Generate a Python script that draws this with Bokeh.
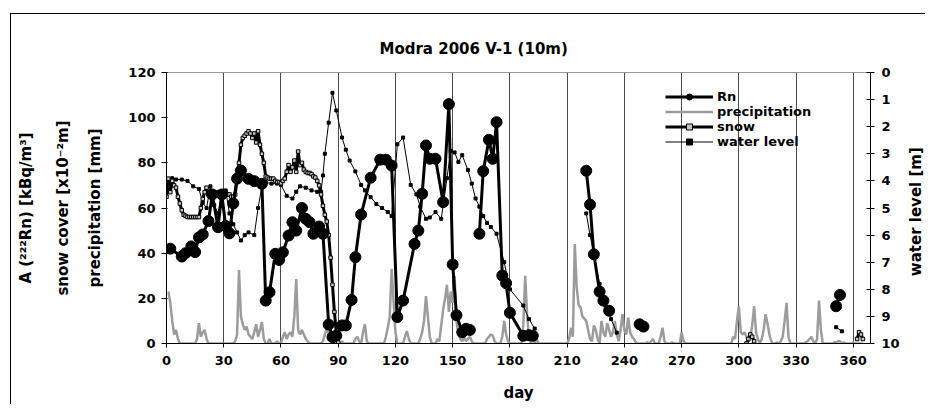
import math
from bokeh.plotting import figure
from bokeh.layouts import row
from bokeh.core.properties import value
from bokeh.models import (Range1d, LinearAxis, FixedTicker, Legend, LegendItem)
from bokeh.embed import file_html
from bokeh.resources import INLINE

nan = float("nan")

# ---------------- data ----------------
x_ticks = [0, 30, 60, 90, 120, 150, 180, 210, 240, 270, 300, 330, 360]
y_ticks = [0, 20, 40, 60, 80, 100, 120]
wl_ticks = [0, 1, 2, 3, 4, 5, 6, 7, 8, 9, 10]

# A(222Rn) [kBq/m3]
rn_day = [2, 8, 10, 13, 15, 17, 19, 22, 24, 27,
          29, 31, 33, 35, 37, 39, 43, 46, 50, 52,
          54, 57, 59, 61, 64, 66, 68, 71, 73, 75,
          77, 80, 82, 85, 87, 89, 92, 94, 97, 99,
          102, 107, 112, 115, 118, 121, 124, 130, 132, 134,
          136, 138, 141, 145, 148, 150, 152, 155, 157, 159,
          nan, 164, 166, 169, 171, 173, 176, 178, 180, 187,
          190, 192, nan, 220, 222, 224, 227, 229, 232, nan,
          248, 250, nan, 351, 353]
rn_val = [42, 38.5, 40, 43, 40.5, 47, 48.3, 54.2, 66, 51.5,
          66, 52, 48.8, 62, 73, 76.6, 72.9, 71.9, 70.7, 19,
          22.7, 39.7, 37, 40.4, 47.8, 53.7, 50, 60, 55.2, 53.7,
          48.6, 51.8, 48.6, 8.4, 2.8, 3.5, 8, 8, 19.3, 38.2,
          57.1, 73.4, 81.4, 81.4, 78.8, 11.7, 19, 44.1, 50, 66.3,
          87.7, 81.8, 81.8, 62.6, 106, 35, 12.5, 5, 6.5, 6,
          nan, 48.6, 76.3, 90.2, 81.8, 98, 30.1, 26.7, 13.6, 3.4,
          3.7, 3.4, nan, 76.5, 61.5, 39.5, 23, 19, 14.5, nan,
          8.5, 7.5, nan, 16.5, 21.5]

# snow cover [x10^-2 m]
snow_day = list(range(0, 91)) + [nan, 304, 305, 306, 307, 308, nan, 362, 363, 364, 365]
snow_val = [65, 73, 67, 72, 70, 69, 65, 62, 59, 57,
            56.5, 56, 56, 56, 56, 56, 56, 56, 60, 64,
            67, 69, 66, 67, 66, 67, 66, 67, 66, 67,
            66, 67, 66, 66, 65, 65, 66, 73, 80, 88,
            91, 92, 93, 94, 93, 91, 93, 89, 94, 88,
            84, 80, 74, 73.5, 73, 73, 73, 72, 71.5, 71.5,
            71, 72, 73, 76, 79, 76, 78, 81, 76, 85,
            79, 80, 77, 76, 75.5, 75.5, 75, 74, 73.5, 72,
            70, 66, 61, 57, 54, 48, 38, 26, 14, 5, 0.5,
            nan, 0, 2, 4, 3, 1, nan, 2, 5, 4, 2]

# water level [m]
wl_day = [1, 3, 5, 8, 11, 14, 17, 19, 21, 23,
          25, 27, 29, 31, 33, 35, 37, 39, 41, 43,
          46, 48, 50, 52, 55, 58, 60, 63, 66, 68,
          70, 73, 76, 79, 81, 82, 83, 85, 87, 89,
          92, 94, 96, 99, 102, 104, 107, 110, 113, 116,
          118, 121, 124, 128, 131, 133, 136, 138, 141, 144,
          147, 149, 151, 153, 155, 158, 160, 162, 164, 166,
          168, 170, 173, 177, 180, 187, 190, 193, nan, 220,
          222, 224, 227, 230, 233, 236, nan, 351, 354]
wl_val = [4.0, 3.9, 3.95, 3.95, 4.0, 4.2, 4.3, 4.8, 5.0, 4.2,
          4.9, 5.2, 4.4, 4.35, 5.2, 5.6, 5.9, 6.2, 6.0, 5.9,
          6.0, 5.0, 4.2, 4.05, 4.1, 4.1, 4.15, 4.55, 4.65, 4.4,
          4.2, 4.25, 4.35, 4.4, 4.4, 3.8, 3.0, 1.85, 0.75, 1.4,
          2.4, 2.85, 3.25, 3.65, 4.15, 4.35, 4.6, 4.85, 5.0, 5.15,
          5.3, 2.65, 2.4, 4.15, 4.5, 4.95, 5.4, 5.35, 5.15, 5.4,
          3.9, 2.9, 2.95, 3.3, 3.05, 3.6, 4.1, 4.65, 4.95, 5.3,
          5.55, 5.7, 5.95, 7.0, 8.0, 8.6, 9.1, 9.45, nan, 5.2,
          6.0, 6.7, 7.8, 8.6, 9.1, 9.6, nan, 9.4, 9.55]

# precipitation [mm], days 1..365
precip_day = list(range(1, 366))
precip_val = [
    23, 18, 10, 4, 6, 2, 0, 0, 0, 0, 0, 0, 0, 0, 0, 2, 9, 3, 5, 6, 2, 0, 0, 0, 0, 0, 0, 0, 0, 0,          # 1-30
    0, 0, 0, 0, 0, 1, 4, 32.5, 12, 8.5, 6, 7.5, 4, 3, 2, 5, 8.5, 3, 6, 9.5, 2, 0, 0, 2, 0, 0, 0, 1, 0, 0,  # 31-60
    3, 5, 2, 4, 5, 3, 12, 28.5, 6, 4, 6, 4, 2, 1, 0, 0, 0, 0, 0, 0, 0, 1, 4, 7, 4, 6, 2, 0, 0, 0,      # 61-90
    0, 1, 0, 0, 0, 0, 0, 0, 2, 3, 1, 0, 5, 8.5, 1, 0, 0, 0, 0, 0, 0, 0, 0, 0, 3, 7, 12, 33, 19, 5,     # 91-120
    0, 0, 0, 0, 3, 5.5, 2, 0, 0, 0, 0, 0, 2, 5, 10, 21, 12, 3, 0, 0, 0, 2, 1, 8, 15, 20, 26, 14, 23, 18,  # 121-150
    30, 10, 4, 2, 1, 3, 1, 2, 3, 1, 0, 0, 0, 0, 0, 0, 0, 2, 3, 4, 3.5, 1, 0, 0, 0, 3, 10, 4, 1, 0,     # 151-180
    0, 0, 0, 0, 0, 0, 8, 30, 13, 2, 0, 0, 0, 2, 0, 0, 0, 0, 0, 0, 0, 0, 0, 0, 0, 0, 0, 0, 0, 0,        # 181-210
    2, 7, 3, 44, 25, 17, 16, 12, 11, 10, 6, 2, 1, 8, 6, 2, 0, 10, 5, 3, 9, 6, 3, 5, 10, 4, 1, 6, 13, 6,  # 211-240
    4, 11.5, 5, 3, 2, 0.5, 0, 0, 0, 0, 0, 0.5, 0, 1, 2, 0, 0, 0, 3, 7, 1, 0, 0, 0, 0.5, 0, 0, 0, 0, 5,  # 241-270
    1, 0, 0, 0, 0, 0, 0, 0, 0, 0, 0, 0, 0, 0, 0, 0, 0, 0, 0, 0, 0, 0, 0, 0, 0, 0, 3, 2, 10, 16.5,      # 271-300
    5, 4, 5, 3, 1, 3, 8, 16.5, 5, 2, 0, 2, 6, 13, 9, 4, 1, 0, 0, 0.5, 0, 1, 3, 10, 18, 3, 0, 0, 0, 0,  # 301-330
    0, 0, 0, 0, 0.5, 1, 2, 3, 1, 0, 2, 19, 6, 0, 0, 0, 0, 0, 0, 0.5, 0.5, 1, 1, 0, 0.5, 0, 0, 0, 0, 0.5,  # 331-360
    0, 0, 0, 0, 0]                                                                                       # 361-365

right_title = ["water level [m]"]

# ---------------- main figure ----------------
FONT = "DejaVu Sans"
H = 404

p = figure(frame_width=704, frame_height=271,
           x_range=Range1d(0, 369), y_range=Range1d(0, 120),
           min_border_left=166, min_border_right=35, min_border_top=72, min_border_bottom=61,
           output_backend="svg", toolbar_location=None,
           title="Modra 2006 V-1 (10m)")
p.extra_y_ranges = {"wl": Range1d(10, 0)}

p.title.text_font = FONT
p.title.text_font_size = "15px"
p.title.text_font_style = "bold"
p.title.text_color = "black"
p.title.align = "left"
p.title.offset = 213
p.title.standoff = 30

p.outline_line_color = "#9a9a9a"
p.outline_line_width = 1
p.background_fill_color = "white"
p.border_fill_alpha = 0

p.ygrid.grid_line_color = None
p.xgrid.ticker = FixedTicker(ticks=x_ticks)
p.xgrid.grid_line_color = "#4a4a4a"
p.xgrid.grid_line_width = 1


def style_axis(ax):
    ax.axis_label_text_font = FONT
    ax.axis_label_text_font_style = "bold"
    ax.axis_label_text_font_size = "15px"
    ax.axis_label_text_color = "black"
    ax.major_label_text_font = FONT
    ax.major_label_text_font_style = "bold"
    ax.major_label_text_font_size = "13px"
    ax.major_label_text_color = "black"
    ax.axis_line_color = "black"
    ax.major_tick_line_color = "black"
    ax.minor_tick_line_color = None


xa = p.xaxis[0]
xa.ticker = FixedTicker(ticks=x_ticks)
xa.axis_label = "day"
style_axis(xa)
xa.major_tick_in = 0
xa.major_tick_out = 4
xa.major_label_standoff = 8
xa.axis_label_standoff = 16

ya = p.yaxis[0]
ya.ticker = FixedTicker(ticks=y_ticks)
ya.axis_label = "precipitation [mm]"
style_axis(ya)
ya.major_tick_in = 1
ya.major_tick_out = 5
ya.major_label_standoff = 6
ya.axis_label_standoff = 21

for lbl, stand in (("snow cover [x10\u207b\u00b2m]", 12), ("A (\u00b2\u00b2\u00b2Rn) [kBq/m\u00b3]", 16)):
    ax = LinearAxis(ticker=FixedTicker(ticks=[]), axis_label=lbl)
    style_axis(ax)
    ax.axis_line_color = None
    ax.major_tick_line_color = None
    ax.major_label_standoff = 0
    ax.axis_label_standoff = stand
    p.add_layout(ax, "left")

ra = LinearAxis(y_range_name="wl", ticker=FixedTicker(ticks=wl_ticks))
style_axis(ra)
ra.major_tick_in = 4
ra.major_tick_out = 4
ra.major_label_standoff = 7
p.add_layout(ra, "right")

# ---------------- series ----------------
r_pr = p.line(precip_day, precip_val, line_color="#9c9c9c", line_width=2.5)

r_wl_l = p.line(wl_day, wl_val, y_range_name="wl", line_color="black", line_width=1)
r_wl_m = p.scatter(wl_day, wl_val, y_range_name="wl", marker="square", size=3,
                   fill_color="black", line_color="black")

r_sn_l = p.line(snow_day, snow_val, line_color="black", line_width=3)
r_sn_m = p.scatter(snow_day, snow_val, marker="square", size=3.5,
                   fill_color="#c8c8c8", line_color="black", line_width=1)

r_rn_l = p.line(rn_day, rn_val, line_color="black", line_width=3)
r_rn_m = p.scatter(rn_day, rn_val, marker="circle", size=11,
                   fill_color="black", line_color="black")

legend = Legend(items=[
    LegendItem(label="Rn", renderers=[r_rn_l, r_rn_m]),
    LegendItem(label="precipitation", renderers=[r_pr]),
    LegendItem(label="snow", renderers=[r_sn_l, r_sn_m]),
    LegendItem(label="water level", renderers=[r_wl_l, r_wl_m]),
], location=(499, 194))
legend.label_text_font = FONT
legend.label_text_font_style = "bold"
legend.label_text_font_size = "13px"
legend.label_text_color = "black"
legend.glyph_width = 48
legend.glyph_height = 15
legend.label_height = 15
legend.label_standoff = 4
legend.spacing = 0
legend.padding = 0
legend.margin = 0
legend.border_line_alpha = 0
legend.background_fill_alpha = 0
p.add_layout(legend, "center")

# ---------------- narrow strip holding the right-axis title ----------------
p2 = figure(width=20, height=H, x_range=Range1d(0, 1), y_range=Range1d(0, H),
            min_border=0, min_border_left=0, min_border_right=0,
            min_border_top=0, min_border_bottom=0,
            x_axis_location=None, y_axis_location=None,
            output_backend="svg", toolbar_location=None)
p2.outline_line_color = None
p2.background_fill_alpha = 0
p2.border_fill_alpha = 0
p2.grid.grid_line_color = None
p2.text(x=[0.5], y=[H - 207.5], text=right_title, angle=math.pi / 2,
        text_align="center", text_baseline="middle",
        text_font=value(FONT), text_font_style="bold", text_font_size="15px",
        text_color="black")

layout = row(p, p2)
# chart-area border: top edge at y=13 and left edge at x=10 (right/bottom edges fall outside)
layout.styles = {"box-shadow": "inset 10px 13px 0 0 white, inset 11px 14px 0 0 black",
                 "vertical-align": "top", "overflow": "hidden"}

open("out.html", "w").write(file_html(layout, INLINE))
